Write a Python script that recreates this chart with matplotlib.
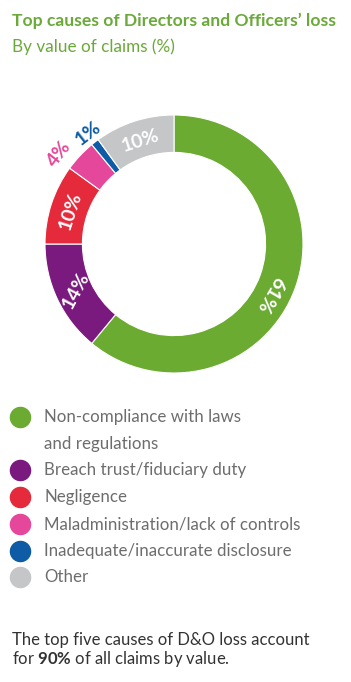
import numpy as np
import matplotlib.pyplot as plt

# data
categories = ["Non-compliance with laws\nand regulations", "Breach trust/fiduciary duty",
              "Negligence", "Maladministration/lack of controls",
              "Inadequate/inaccurate disclosure", "Other"]
values = [61, 14, 10, 4, 1, 10]
colors = ["#6cab31", "#7a1a7e", "#e42a3b", "#e5489a", "#0e5ca5", "#c5c6c8"]

W, H = 351, 682
fig = plt.figure(figsize=(W / 100, H / 100), dpi=100)
plt.rcParams['font.family'] = ["Lato", "DejaVu Sans"]
plt.rcParams['mathtext.fontset'] = "custom"
plt.rcParams['mathtext.bf'] = "Lato:bold"
plt.rcParams['mathtext.rm'] = "Lato"

# page axes in pixel coordinates
page = fig.add_axes([0, 0, 1, 1])
page.set_xlim(0, W)
page.set_ylim(H, 0)
page.axis("off")

page.text(12, 26, "Top causes of Directors and Officers\u2019 loss", fontsize=12.6,
          fontweight="bold", color="#6aa93a", va="baseline")
page.text(12, 52, "By value of claims (%)", fontsize=12.3, color="#6aa93a", va="baseline")

# donut
cx, cy, R = 174, 244, 129
half = 150
ax = fig.add_axes([(cx - half) / W, (H - cy - half) / H, 2 * half / W, 2 * half / H])
lim = half / R
wedges, _ = ax.pie(values, colors=colors, startangle=90, counterclock=False,
                   radius=1, wedgeprops=dict(width=0.29, edgecolor="white", linewidth=0.8))
ax.set_xlim(-lim, lim)
ax.set_ylim(-lim, lim)
ax.set_aspect("equal")
ax.axis("off")

for i, w in enumerate(wedges):
    mid = (w.theta1 + w.theta2) / 2
    txt = f"{values[i]}%"
    if values[i] >= 5:
        r = 0.84
        ang = mid
        rot = mid - 90
        if i == 0:
            ang, rot = mid - 8, mid - 100
        if i == 1:
            rot = 62
        ax.text(r * np.cos(np.radians(ang)), r * np.sin(np.radians(ang)), txt,
                rotation=rot, rotation_mode="anchor", ha="center", va="center",
                color="white", fontsize=14, fontweight="bold")
    else:
        r = 1.13 if values[i] >= 2 else 1.09
        ang = mid + (5 if values[i] >= 2 else 0)
        ax.text(r * np.cos(np.radians(ang)), r * np.sin(np.radians(ang)), txt,
                rotation=ang - 90, rotation_mode="anchor", ha="center", va="center",
                color=colors[i], fontsize=14, fontweight="bold")

# legend
rows = [417, 470, 497, 524, 551, 577]
for i, lab in enumerate(categories):
    page.scatter(20, rows[i], s=210, color=colors[i], zorder=3)
    for k, line in enumerate(lab.split("\n")):
        page.text(44, rows[i] + 26.5 * k, line, fontsize=12.2, color="#6d6d6d",
                  va="center")

page.text(12, 640, "The top five causes of D&O loss account", fontsize=12,
          color="#333333", va="center")
page.text(12, 659, "for $\\mathbf{90\\%}$ of all claims by value.", fontsize=12,
          color="#333333", va="center")

fig.savefig("out.png", dpi=100)
